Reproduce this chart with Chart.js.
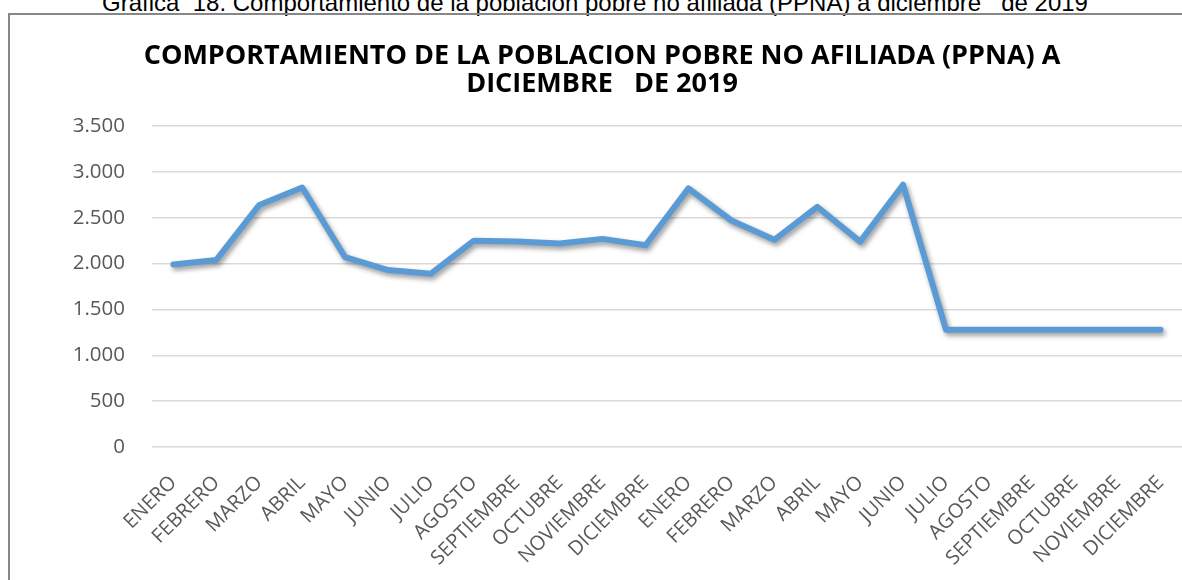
<!DOCTYPE html>
<html>
<head>
<meta charset="utf-8">
<script src="https://cdn.jsdelivr.net/npm/chart.js@4/dist/chart.umd.min.js"></script>
<style>
    html, body { margin: 0; padding: 0; background: #fff; overflow: hidden; }
    #page { position: relative; width: 1182px; height: 580px; }
    #caption {
        position: absolute; left: 0; top: -9px; width: 1190px;
        text-align: center; white-space: pre;
        font: 24px/24px "Liberation Sans", Arial, sans-serif; color: #000;
    }
    #frame {
        position: absolute; left: 8px; top: 13px; right: -10px; bottom: -10px;
        border-left: 2px solid #878787; border-top: 2px solid #878787;
    }
    #ppnaChart { position: absolute; left: 0; top: 0; }
</style>
</head>
<body>
<div id="page">
    <div id="caption">Gráfica  18. Comportamiento de la población pobre no afiliada (PPNA) a diciembre   de 2019</div>
    <div id="frame"></div>
    <canvas id="ppnaChart" width="1182" height="580"></canvas>
</div>
<script>
// Meses de 2018 y 2019
const meses = [
    'ENERO', 'FEBRERO', 'MARZO', 'ABRIL', 'MAYO', 'JUNIO',
    'JULIO', 'AGOSTO', 'SEPTIEMBRE', 'OCTUBRE', 'NOVIEMBRE', 'DICIEMBRE',
    'ENERO', 'FEBRERO', 'MARZO', 'ABRIL', 'MAYO', 'JUNIO',
    'JULIO', 'AGOSTO', 'SEPTIEMBRE', 'OCTUBRE', 'NOVIEMBRE', 'DICIEMBRE'
];

// Poblacion pobre no afiliada
const ppna = [
    1990, 2040, 2640, 2830, 2070, 1930,
    1890, 2250, 2240, 2220, 2270, 2200,
    2820, 2470, 2260, 2620, 2240, 2860,
    1280, 1280, 1280, 1280, 1280, 1280
];

const tituloLineas = [
    'COMPORTAMIENTO DE LA POBLACION POBRE NO AFILIADA (PPNA) A',
    'DICIEMBRE   DE 2019'
];

const ejeYMin = 0;
const ejeYMax = 3500;
const ejeYPaso = 500;

// separador de miles con punto
function formatoMiles(v) {
    return String(v).replace(/\B(?=(\d{3})+(?!\d))/g, '.');
}

// sombra suave bajo la linea, como en Excel
const sombraLinea = {
    id: 'sombraLinea',
    beforeDatasetDraw(chart) {
        const ctx = chart.ctx;
        ctx.save();
        ctx.shadowColor = 'rgba(0, 0, 0, 0.4)';
        ctx.shadowBlur = 5;
        ctx.shadowOffsetX = 2;
        ctx.shadowOffsetY = 3;
    },
    afterDatasetDraw(chart) {
        chart.ctx.restore();
    }
};

const ctx = document.getElementById('ppnaChart');

new Chart(ctx, {
    type: 'line',
    data: {
        labels: meses,
        datasets: [{
            label: 'PPNA',
            data: ppna,
            borderColor: '#5B9BD5',
            borderWidth: 6,
            borderJoinStyle: 'round',
            borderCapStyle: 'round',
            pointRadius: 0,
            pointHoverRadius: 0,
            fill: false,
            tension: 0
        }]
    },
    options: {
        responsive: false,
        animation: false,
        layout: {
            padding: { left: 22, right: 0, top: 0, bottom: 0 }
        },
        plugins: {
            legend: { display: false },
            tooltip: { enabled: false },
            title: {
                display: true,
                text: tituloLineas,
                color: '#000',
                font: { family: '"Open Sans", sans-serif', size: 27, weight: 'bold', lineHeight: 1.02 },
                padding: { top: 43, bottom: 28 }
            }
        },
        scales: {
            x: {
                offset: true,
                grid: { display: false, drawTicks: false },
                border: { display: false },
                afterFit(scale) {
                    // la grafica llega hasta el borde derecho
                    scale.height = 133;
                    scale.paddingLeft = 0;
                    scale.paddingRight = 0;
                },
                ticks: {
                    autoSkip: false,
                    minRotation: 45,
                    maxRotation: 45,
                    padding: 24,
                    color: '#595959',
                    font: { family: '"Open Sans", sans-serif', size: 20 }
                }
            },
            y: {
                min: ejeYMin,
                max: ejeYMax,
                afterFit(scale) { scale.width = 130; },
                grid: { color: '#D9D9D9', lineWidth: 1.5, drawTicks: false },
                border: { display: false },
                ticks: {
                    stepSize: ejeYPaso,
                    padding: 27,
                    color: '#595959',
                    font: { family: '"Open Sans", sans-serif', size: 20.5 },
                    callback: (v) => formatoMiles(v)
                }
            }
        }
    },
    plugins: [sombraLinea]
});
</script>
</body>
</html>
